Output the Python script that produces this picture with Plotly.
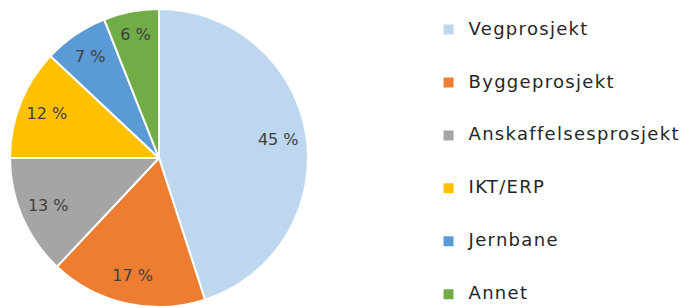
import plotly.graph_objects as go

categories = ["Vegprosjekt", "Byggeprosjekt", "Anskaffelsesprosjekt", "IKT/ERP", "Jernbane", "Annet"]
values = [45, 17, 13, 12, 7, 6]
colors = ["#BDD7EE", "#ED7D31", "#A5A5A5", "#FFC000", "#5B9BD5", "#70AD47"]

legend_labels = [
    "<br><span style='font-size:18px;letter-spacing:1.3px'>%s</span><br> " % c
    for c in categories
]

dom = dict(x=[9/694, 309/694], y=[1/308, 299/308])

fig = go.Figure()
# full pie: colours, white separators and legend
fig.add_trace(go.Pie(
    labels=legend_labels,
    values=values,
    sort=False,
    direction="clockwise",
    rotation=0,
    marker=dict(colors=colors, line=dict(color="white", width=2)),
    textinfo="none",
    domain=dom,
    hoverinfo="none",
    showlegend=True,
))
# transparent ring on top carries the labels so they sit towards the rim
fig.add_trace(go.Pie(
    labels=legend_labels,
    values=values,
    sort=False,
    direction="clockwise",
    rotation=0,
    hole=0.62,
    marker=dict(colors=["rgba(0,0,0,0)"] * len(values), line=dict(width=0)),
    texttemplate="%{value} %",
    textposition="inside",
    insidetextorientation="horizontal",
    textfont=dict(family="DejaVu Sans", size=16, color="#404040"),
    domain=dom,
    hoverinfo="none",
    showlegend=False,
))

fig.update_layout(
    width=694, height=308,
    margin=dict(l=0, r=0, t=0, b=0, autoexpand=False),
    paper_bgcolor="white",
    plot_bgcolor="white",
    showlegend=True,
    legend=dict(
        x=0.6175, y=1.006, xanchor="left", yanchor="top",
        font=dict(family="DejaVu Sans", size=12.8, color="#262626"),
        bgcolor="rgba(0,0,0,0)",
        maxheight=500,
    ),
    uniformtext=dict(minsize=16, mode="show"),
)

fig.write_html("out.html", config={"displayModeBar": False},
               post_script="document.body.style.margin='0';")
